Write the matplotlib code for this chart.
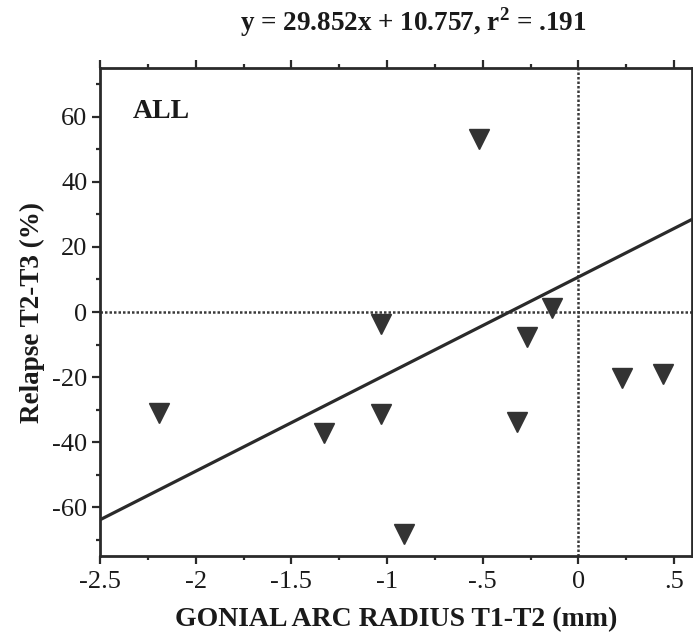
import matplotlib
matplotlib.use("Agg")
import matplotlib.pyplot as plt
from matplotlib.ticker import MultipleLocator
import numpy as np

# Change in gonial arc radius (mm) vs relapse (%)
radius_change = [-0.52, -2.19, -1.33, -1.03, -1.03, -0.91, -0.32, -0.27, -0.14, 0.23, 0.44]
relapse_pct = [53.2, -30.9, -37.3, -3.7, -31.5, -68.2, -33.9, -7.6, 1.2, -20.2, -19.0]

# Least-squares fit reported in the title
slope = 29.852
intercept = 10.757
r_squared = ".191"

x_ticks = [-2.5, -2.0, -1.5, -1.0, -0.5, 0.0, 0.5]
x_tick_labels = ["-2.5", "-2", "-1.5", "-1", "-.5", "0", ".5"]
y_ticks = [-60, -40, -20, 0, 20, 40, 60]
y_tick_labels = ["-60", "-40", "-20", "0", "20", "40", "60"]

plt.rcParams["font.family"] = ["Liberation Serif", "DejaVu Serif"]
plt.rcParams["mathtext.fontset"] = "custom"
plt.rcParams["mathtext.rm"] = "Liberation Serif"
plt.rcParams["mathtext.bf"] = "Liberation Serif:bold"

ink = "#2a2a2a"

fig = plt.figure(figsize=(6.93, 6.36), dpi=100)
ax = fig.add_axes([0.1443, 0.1258, 0.8543, 0.7672])

x_min, x_max = -2.5, 0.594
y_min, y_max = -75, 75
ax.set_xlim(x_min, x_max)
ax.set_ylim(y_min, y_max)

# Zero reference lines
ax.axhline(0, color="#3a3a3a", lw=1.8, ls=(0, (1, 0.8)), zorder=1)
ax.axvline(0, color="#3a3a3a", lw=1.8, ls=(0, (1, 0.8)), zorder=1)

# Regression line
xf = np.array([x_min, x_max])
ax.plot(xf, slope * xf + intercept, color=ink, lw=2.3, zorder=2)

# Observations
ax.plot(radius_change, relapse_pct, linestyle="none", marker="v",
        markersize=14.5, color="#333333", zorder=3)

ax.set_xticks(x_ticks)
ax.set_xticklabels(x_tick_labels)
ax.set_yticks(y_ticks)
ax.set_yticklabels(y_tick_labels)
ax.xaxis.set_minor_locator(MultipleLocator(0.25))
ax.yaxis.set_minor_locator(MultipleLocator(10))

ax.tick_params(axis="both", which="major", direction="out", length=6, width=1.6,
               color=ink, labelsize=19, labelcolor="#1a1a1a", pad=3)
ax.tick_params(axis="x", which="major", pad=5)
ax.tick_params(axis="both", which="minor", direction="out", length=3, width=1.6,
               color=ink)
ax.tick_params(axis="x", which="both", top=True)

for side in ax.spines.values():
    side.set_linewidth(2.0)
    side.set_color(ink)

ax.set_xlabel("GONIAL ARC RADIUS T1-T2 (mm)", fontsize=20, fontweight="bold",
              color="#1a1a1a", labelpad=10)
ax.set_ylabel("Relapse T2-T3 (%)", fontsize=19.5, fontweight="bold",
              color="#1a1a1a", labelpad=5)

fig.text(0.597, 0.965,
         r"y = 29.852x + 10.757, r$^{\mathbf{2}}$ = " + r_squared,
         ha="center", va="center", fontsize=19.5, fontweight="bold", color="#1a1a1a")

ax.text(0.055, 0.91, "ALL", transform=ax.transAxes, fontsize=20,
        fontweight="bold", color="#1a1a1a", ha="left", va="center")

fig.savefig("out.png", dpi=100)
